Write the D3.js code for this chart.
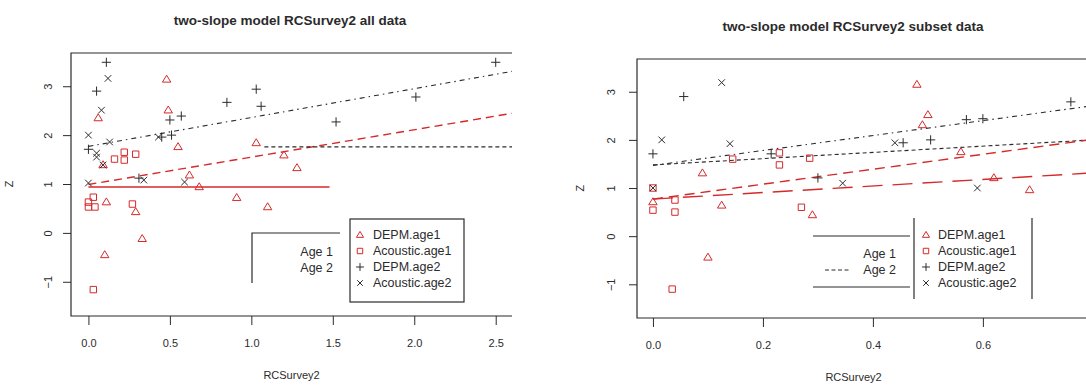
<!DOCTYPE html>
<html>
<head>
<meta charset="utf-8">
<script src="https://cdn.jsdelivr.net/npm/d3@7"></script>
<style>
  body { margin: 0; background: #fff; }
  svg { display: block; font-family: "Liberation Sans", Arial, sans-serif; }
</style>
</head>
<body>
<svg id="chart" width="1086" height="385"></svg>
<script>
// series names / legend labels
const seriesNames = ['DEPM.age1', 'Acoustic.age1', 'DEPM.age2', 'Acoustic.age2'];
const ageLabels = ['Age 1', 'Age 2'];

// ---- all data panel: [RCSurvey2, Z]
const allDepm1 = [[0.06, 2.35], [0.09, 1.39], [0.48, 3.14], [0.49, 2.51], [0.55, 1.76], [1.03, 1.84],
  [1.2, 1.59], [1.28, 1.33], [0.62, 1.18], [0.68, 0.94], [0.91, 0.72], [0.11, 0.63], [0.29, 0.43],
  [1.1, 0.53], [0.33, -0.12], [0.1, -0.45]];
const allAcoustic1 = [[0.16, 1.51], [0.22, 1.65], [0.22, 1.49], [0.29, 1.61], [0.0, 0.63], [0.03, 0.73],
  [0.04, 0.53], [0.0, 0.53], [0.27, 0.59], [0.03, -1.16]];
const allDepm2 = [[0.11, 3.49], [0.05, 2.9], [0.0, 1.71], [0.51, 2.0], [0.5, 2.31], [0.57, 2.39],
  [0.85, 2.67], [1.03, 2.94], [1.06, 2.59], [1.52, 2.27], [2.01, 2.78], [2.5, 3.49], [0.31, 1.12], [0.45, 1.96]];
const allAcoustic2 = [[0.12, 3.16], [0.08, 2.51], [0.0, 2.0], [0.05, 1.63], [0.09, 1.39], [0.13, 1.86],
  [0.43, 1.96], [0.34, 1.08], [0.59, 1.04], [0.0, 1.02], [0.05, 1.55]];

// fitted lines (all data): x from, x to, intercept, slope
const allFitX0 = [0, 0, 1.08, 0];
const allFitX1 = [1.48, 2.6, 2.6, 2.6];
const allFitIntercept = [0.94, 0.99, 1.76, 1.77];
const allFitSlope = [0, 0.56, 0, 0.59];

// ---- subset panel
const subDepm1 = [[0.48, 3.15], [0.09, 1.31], [0.5, 2.52], [0.49, 2.31], [0.56, 1.75], [0.62, 1.21],
  [0.685, 0.96], [0.0, 0.71], [0.125, 0.64], [0.29, 0.44], [0.1, -0.44]];
const subAcoustic1 = [[0.145, 1.6], [0.23, 1.73], [0.23, 1.48], [0.285, 1.62], [0.0, 1.0], [0.0, 0.54],
  [0.04, 0.75], [0.04, 0.5], [0.27, 0.6], [0.035, -1.1]];
const subDepm2 = [[0.056, 2.9], [0.0, 1.71], [0.215, 1.71], [0.3, 1.21], [0.57, 2.42], [0.6, 2.44],
  [0.455, 1.94], [0.505, 2.0], [0.76, 2.79]];
const subAcoustic2 = [[0.125, 3.19], [0.016, 2.0], [0.14, 1.92], [0.345, 1.1], [0.44, 1.94], [0.59, 1.0], [0.0, 1.0]];

const subFitX0 = [0, 0, 0, 0];
const subFitX1 = [0.82, 0.82, 0.82, 0.82];
const subFitIntercept = [1.47, 1.48, 0.77, 0.77];
const subFitSlope = [1.55, 0.65, 1.55, 0.68];

// axes
const yTicks = [-1, 0, 1, 2, 3];
const yDomain = [-1.7, 3.68];
const allXTicks = [0, 0.5, 1, 1.5, 2, 2.5];
const allXDomain = [-0.107, 2.6];
const subXTicks = [0, 0.2, 0.4, 0.6];
const subXDomain = [-0.029, 0.813];

const RED = '#d42a2a';
const INK = '#2b2b2b';

// simple R-like stroke markers, size = half width
const markerTypes = [
  { draw(c, r) { const h = r * 0.87; c.moveTo(0, -r); c.lineTo(-r, h * 0.75); c.lineTo(r, h * 0.75); c.closePath(); } },
  { draw(c, r) { c.rect(-r * 0.8, -r * 0.8, r * 1.6, r * 1.6); } },
  { draw(c, r) { c.moveTo(-r, 0); c.lineTo(r, 0); c.moveTo(0, -r); c.lineTo(0, r); } },
  { draw(c, r) { c.moveTo(-r, -r); c.lineTo(r, r); c.moveTo(-r, r); c.lineTo(r, -r); } }
];
const markerSizes = [4.2, 4, 4.6, 3.3];
const markerColors = [RED, RED, INK, INK];

const svg = d3.select('#chart');

function drawPanel(cfg) {
  const x = d3.scaleLinear().domain(cfg.xDomain).range([cfg.left, cfg.right]);
  const y = d3.scaleLinear().domain(yDomain).range([cfg.bottom, cfg.top]);
  const g = svg.append('g');

  // title
  g.append('text')
    .attr('x', cfg.titleX).attr('y', cfg.titleY)
    .attr('text-anchor', 'middle')
    .style('font-size', '13.5px').style('font-weight', 'bold').style('fill', INK)
    .text(cfg.title);

  // box: top, left, bottom
  g.append('path')
    .attr('d', `M${cfg.right},${cfg.top}H${cfg.left}V${cfg.bottom}H${cfg.right}`)
    .attr('fill', 'none').attr('stroke', INK).attr('stroke-width', 1.2);

  // x axis
  const xa = g.append('g')
    .attr('transform', `translate(0,${cfg.bottom})`)
    .call(d3.axisBottom(x).tickValues(cfg.xTicks).tickFormat(d3.format('.1f')).tickSize(9).tickPadding(14));
  xa.select('.domain').remove();
  xa.selectAll('line').attr('stroke', INK);
  xa.selectAll('text').style('font-size', '11px').style('fill', INK).style('font-family', 'inherit');

  // y axis, labels parallel to axis
  const ya = g.append('g')
    .attr('transform', `translate(${cfg.left},0)`)
    .call(d3.axisLeft(y).tickValues(yTicks).tickFormat(d3.format('d')).tickSize(8));
  ya.select('.domain').remove();
  ya.selectAll('line').attr('stroke', INK);
  ya.selectAll('text')
    .attr('transform', 'rotate(-90)')
    .attr('x', 0).attr('y', -cfg.yLabelOff).attr('dy', '0.35em')
    .attr('text-anchor', 'middle')
    .style('font-size', '11px').style('fill', INK).style('font-family', 'inherit');

  // axis titles
  g.append('text')
    .attr('x', (cfg.left + cfg.right) / 2 + cfg.xLabShift).attr('y', cfg.xLabY)
    .attr('text-anchor', 'middle').style('font-size', '11px').style('fill', INK)
    .text('RCSurvey2');
  g.append('text')
    .attr('transform', `translate(${cfg.left - cfg.zOff},${y(1)}) rotate(-90)`)
    .attr('text-anchor', 'middle').attr('dy', '0.35em')
    .style('font-size', '11px').style('fill', INK)
    .text('Z');

  // fitted lines
  const clip = 'clip-' + cfg.id;
  g.append('clipPath').attr('id', clip).append('rect')
    .attr('x', cfg.left).attr('y', cfg.top).attr('width', cfg.right - cfg.left).attr('height', cfg.bottom - cfg.top);
  const lines = g.append('g').attr('clip-path', `url(#${clip})`);
  cfg.fitIntercept.forEach((b, i) => {
    const xs = [cfg.fitX0[i], cfg.fitX1[i]];
    lines.append('path')
      .attr('d', d3.line().x(d => x(d)).y(d => y(b + cfg.fitSlope[i] * d))(xs))
      .attr('fill', 'none')
      .attr('stroke', cfg.fitStyle[i].color)
      .attr('stroke-width', cfg.fitStyle[i].width)
      .attr('stroke-dasharray', cfg.fitStyle[i].dash);
  });

  // points
  const pts = g.append('g').attr('clip-path', `url(#${clip})`);
  cfg.series.forEach((data, k) => {
    pts.selectAll(null)
      .data(data)
      .enter()
      .append('path')
      .attr('transform', d => `translate(${x(d[0])},${y(d[1])})`)
      .attr('d', d3.symbol().type(markerTypes[k]).size(markerSizes[k]))
      .attr('fill', 'none')
      .attr('stroke', markerColors[k])
      .attr('stroke-width', 1);
  });

  // series legend
  const L = cfg.legend;
  g.append('rect').attr('x', L.x0).attr('y', L.y0).attr('width', L.x1 - L.x0).attr('height', L.y1 - L.y0)
    .attr('fill', '#fff').attr('stroke', L.box ? INK : 'none').attr('stroke-width', 1.2);
  if (!L.box) {
    [L.x0, L.x1].forEach(xx => g.append('line')
      .attr('x1', xx).attr('x2', xx).attr('y1', L.y0).attr('y2', L.y1)
      .attr('stroke', INK).attr('stroke-width', 1.2));
  }
  seriesNames.forEach((name, k) => {
    const yy = L.rowY + k * 16;
    g.append('path')
      .attr('transform', `translate(${L.symX},${yy})`)
      .attr('d', d3.symbol().type(markerTypes[k]).size(markerSizes[k] * 0.85))
      .attr('fill', 'none').attr('stroke', markerColors[k]).attr('stroke-width', 1);
    g.append('text')
      .attr('x', L.textX).attr('y', yy).attr('dy', '0.35em')
      .style('font-size', '12.5px').style('fill', INK)
      .text(name);
  });

  // age legend
  const A = cfg.ageLegend;
  g.append('path')
    .attr('d', A.frame)
    .attr('fill', 'none').attr('stroke', INK).attr('stroke-width', 1.2);
  if (A.dash) {
    g.append('line').attr('x1', A.dash[0]).attr('x2', A.dash[1]).attr('y1', A.rowY + 16).attr('y2', A.rowY + 16)
      .attr('stroke', INK).attr('stroke-dasharray', '4,2.5');
  }
  ageLabels.forEach((t, k) => {
    g.append('text')
      .attr('x', A.textX).attr('y', A.rowY + k * 16).attr('dy', '0.35em')
      .attr('text-anchor', 'end')
      .style('font-size', '12.5px').style('fill', INK)
      .text(t);
  });
}

drawPanel({
  id: 'all',
  title: 'two-slope model RCSurvey2 all data', titleX: 290, titleY: 25,
  left: 71, right: 512, top: 53, bottom: 316,
  xDomain: allXDomain, xTicks: allXTicks,
  yLabelOff: 23, zOff: 62, xLabY: 379, xLabShift: 0,
  series: [allDepm1, allAcoustic1, allDepm2, allAcoustic2],
  fitX0: allFitX0, fitX1: allFitX1, fitIntercept: allFitIntercept, fitSlope: allFitSlope,
  fitStyle: [
    { color: RED, width: 1.4, dash: null },
    { color: RED, width: 1.4, dash: '8,5' },
    { color: INK, width: 1.1, dash: '4,3' },
    { color: INK, width: 1.1, dash: '5,4,1.5,4' }
  ],
  legend: { box: true, x0: 350, x1: 464, y0: 219, y1: 302, rowY: 235, symX: 360, textX: 373 },
  ageLegend: { frame: 'M340,233H252V283', rowY: 252, textX: 333, dash: null }
});

drawPanel({
  id: 'sub',
  title: 'two-slope model RCSurvey2 subset data', titleX: 853, titleY: 31,
  left: 637, right: 1100, top: 59, bottom: 318,
  xDomain: subXDomain, xTicks: subXTicks,
  yLabelOff: 26, zOff: 57, xLabY: 381, xLabShift: -15,
  series: [subDepm1, subAcoustic1, subDepm2, subAcoustic2],
  fitX0: subFitX0, fitX1: subFitX1, fitIntercept: subFitIntercept, fitSlope: subFitSlope,
  fitStyle: [
    { color: INK, width: 1.1, dash: '5,4,1.5,4' },
    { color: INK, width: 1.1, dash: '4,3' },
    { color: RED, width: 1.4, dash: '10,6' },
    { color: RED, width: 1.4, dash: '20,10' }
  ],
  legend: { box: false, x0: 914, x1: 1032, y0: 218, y1: 299, rowY: 235, symX: 926, textX: 938 },
  ageLegend: { frame: 'M813,236H910M813,287H910', rowY: 254, textX: 896, dash: [825, 850] }
});
</script>
</body>
</html>
